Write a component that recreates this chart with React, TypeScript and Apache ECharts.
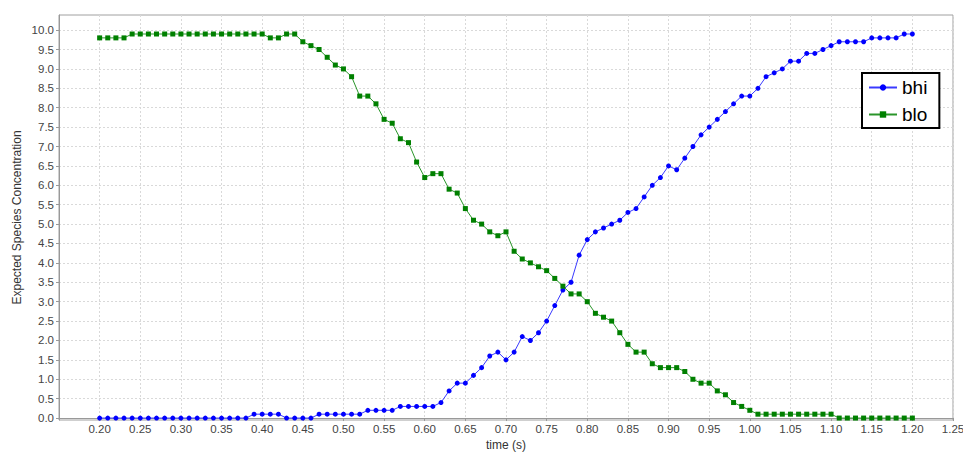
import React, { useEffect, useRef } from "react";
import * as echarts from "echarts";

const times = [
  0.2, 0.21, 0.22, 0.23, 0.24, 0.25, 0.26, 0.27, 0.28, 0.29,
  0.3, 0.31, 0.32, 0.33, 0.34, 0.35, 0.36, 0.37, 0.38, 0.39,
  0.4, 0.41, 0.42, 0.43, 0.44, 0.45, 0.46, 0.47, 0.48, 0.49,
  0.5, 0.51, 0.52, 0.53, 0.54, 0.55, 0.56, 0.57, 0.58, 0.59,
  0.6, 0.61, 0.62, 0.63, 0.64, 0.65, 0.66, 0.67, 0.68, 0.69,
  0.7, 0.71, 0.72, 0.73, 0.74, 0.75, 0.76, 0.77, 0.78, 0.79,
  0.8, 0.81, 0.82, 0.83, 0.84, 0.85, 0.86, 0.87, 0.88, 0.89,
  0.9, 0.91, 0.92, 0.93, 0.94, 0.95, 0.96, 0.97, 0.98, 0.99,
  1.0, 1.01, 1.02, 1.03, 1.04, 1.05, 1.06, 1.07, 1.08, 1.09,
  1.1, 1.11, 1.12, 1.13, 1.14, 1.15, 1.16, 1.17, 1.18, 1.19,
  1.2,
];

const bhi = [
  0, 0, 0, 0, 0, 0, 0, 0, 0, 0,
  0, 0, 0, 0, 0, 0, 0, 0, 0, 0.1,
  0.1, 0.1, 0.1, 0, 0, 0, 0, 0.1, 0.1, 0.1,
  0.1, 0.1, 0.1, 0.2, 0.2, 0.2, 0.2, 0.3, 0.3, 0.3,
  0.3, 0.3, 0.4, 0.7, 0.9, 0.9, 1.1, 1.3, 1.6, 1.7,
  1.5, 1.7, 2.1, 2.0, 2.2, 2.5, 2.9, 3.3, 3.5, 4.2,
  4.6, 4.8, 4.9, 5.0, 5.1, 5.3, 5.4, 5.7, 6.0, 6.2,
  6.5, 6.4, 6.7, 7.0, 7.3, 7.5, 7.7, 7.9, 8.1, 8.3,
  8.3, 8.5, 8.8, 8.9, 9.0, 9.2, 9.2, 9.4, 9.4, 9.5,
  9.6, 9.7, 9.7, 9.7, 9.7, 9.8, 9.8, 9.8, 9.8, 9.9,
  9.9,
];

const blo = [
  9.8, 9.8, 9.8, 9.8, 9.9, 9.9, 9.9, 9.9, 9.9, 9.9,
  9.9, 9.9, 9.9, 9.9, 9.9, 9.9, 9.9, 9.9, 9.9, 9.9,
  9.9, 9.8, 9.8, 9.9, 9.9, 9.7, 9.6, 9.5, 9.3, 9.1,
  9.0, 8.8, 8.3, 8.3, 8.1, 7.7, 7.6, 7.2, 7.1, 6.6,
  6.2, 6.3, 6.3, 5.9, 5.8, 5.4, 5.1, 5.0, 4.8, 4.7,
  4.8, 4.3, 4.1, 4.0, 3.9, 3.8, 3.6, 3.4, 3.2, 3.2,
  3.0, 2.7, 2.6, 2.5, 2.2, 1.9, 1.7, 1.7, 1.4, 1.3,
  1.3, 1.3, 1.2, 1.0, 0.9, 0.9, 0.7, 0.6, 0.4, 0.3,
  0.2, 0.1, 0.1, 0.1, 0.1, 0.1, 0.1, 0.1, 0.1, 0.1,
  0.1, 0, 0, 0, 0, 0, 0, 0, 0, 0,
  0,
];

const xTicks = [
  0.2, 0.25, 0.3, 0.35, 0.4, 0.45, 0.5, 0.55, 0.6, 0.65, 0.7, 0.75,
  0.8, 0.85, 0.9, 0.95, 1.0, 1.05, 1.1, 1.15, 1.2, 1.25,
];
const yTicks = [
  0, 0.5, 1, 1.5, 2, 2.5, 3, 3.5, 4, 4.5, 5, 5.5, 6, 6.5, 7, 7.5, 8, 8.5,
  9, 9.5, 10,
];

const seriesNames = ["bhi", "blo"];

const FONT = "'Liberation Sans', 'DejaVu Sans', sans-serif";

export default function App() {
  const ref = useRef<HTMLDivElement>(null);
  useEffect(() => {
    if (!ref.current) return;
    const chart = echarts.init(ref.current, null, { renderer: "svg" });
    const gridLine = {
      show: true,
      lineStyle: { color: "#d9d9d9", type: [2, 2] as any, width: 1 },
    };
    chart.setOption({
      animation: false,
      backgroundColor: "#ffffff",
      textStyle: { fontFamily: FONT },
      grid: {
        left: 59,
        right: 10,
        top: 15,
        bottom: 32,
        outerBoundsMode: "none",
        containLabel: false,
        show: true,
        borderColor: "#a0a0a0",
        borderWidth: 1,
        backgroundColor: "#ffffff",
      },
      legend: {
        left: 862,
        top: 73,
        orient: "vertical",
        data: seriesNames,
        backgroundColor: "#ffffff",
        borderColor: "#000000",
        borderWidth: 2,
        borderRadius: 0,
        padding: [5, 12, 4, 6],
        itemWidth: 28,
        itemHeight: 8,
        itemGap: 8,
        textStyle: { fontSize: 19, color: "#000", fontFamily: FONT },
      },
      xAxis: {
        type: "value",
        min: 0.15,
        max: 1.25,
        name: "time (s)",
        nameLocation: "middle",
        nameGap: 19,
        nameMoveOverlap: false,
        nameTextStyle: { fontSize: 12, color: "#333", fontFamily: FONT },
        axisLine: { show: true, lineStyle: { color: "#999", width: 1 } },
        axisTick: {
          show: true,
          length: 3,
          customValues: xTicks,
          lineStyle: { color: "#999" },
        },
        axisLabel: {
          customValues: xTicks,
          formatter: (v: number) => v.toFixed(2),
          fontSize: 11.5,
          color: "#444",
          margin: 3,
          fontFamily: FONT,
        },
        splitLine: gridLine,
      },
      yAxis: {
        type: "value",
        min: -0.05,
        max: 10.39,
        name: "Expected Species Concentration",
        nameLocation: "middle",
        nameGap: 36,
        nameMoveOverlap: false,
        nameTextStyle: { fontSize: 12, color: "#333", fontFamily: FONT },
        axisLine: { show: true, lineStyle: { color: "#999", width: 1 } },
        axisTick: {
          show: true,
          length: 3,
          customValues: yTicks,
          lineStyle: { color: "#999" },
        },
        axisLabel: {
          customValues: yTicks,
          formatter: (v: number) => v.toFixed(1),
          fontSize: 11.5,
          color: "#444",
          margin: 5,
          fontFamily: FONT,
        },
        splitLine: gridLine,
      },
      series: [
        {
          name: seriesNames[0],
          type: "line",
          data: times.map((t, i) => [t, bhi[i]]),
          symbol: "circle",
          symbolSize: 5,
          showAllSymbol: true,
          itemStyle: { color: "#0000ff" },
          lineStyle: { color: "#3a3aff", width: 1 },
        },
        {
          name: seriesNames[1],
          type: "line",
          data: times.map((t, i) => [t, blo[i]]),
          symbol: "rect",
          symbolSize: 5,
          showAllSymbol: true,
          itemStyle: { color: "#008000" },
          lineStyle: { color: "#2a952a", width: 1 },
        },
      ],
    });
    return () => chart.dispose();
  }, []);
  return (
    <div
      ref={ref}
      style={{ position: "fixed", left: 0, top: 0, width: 963, height: 452 }}
    />
  );
}
